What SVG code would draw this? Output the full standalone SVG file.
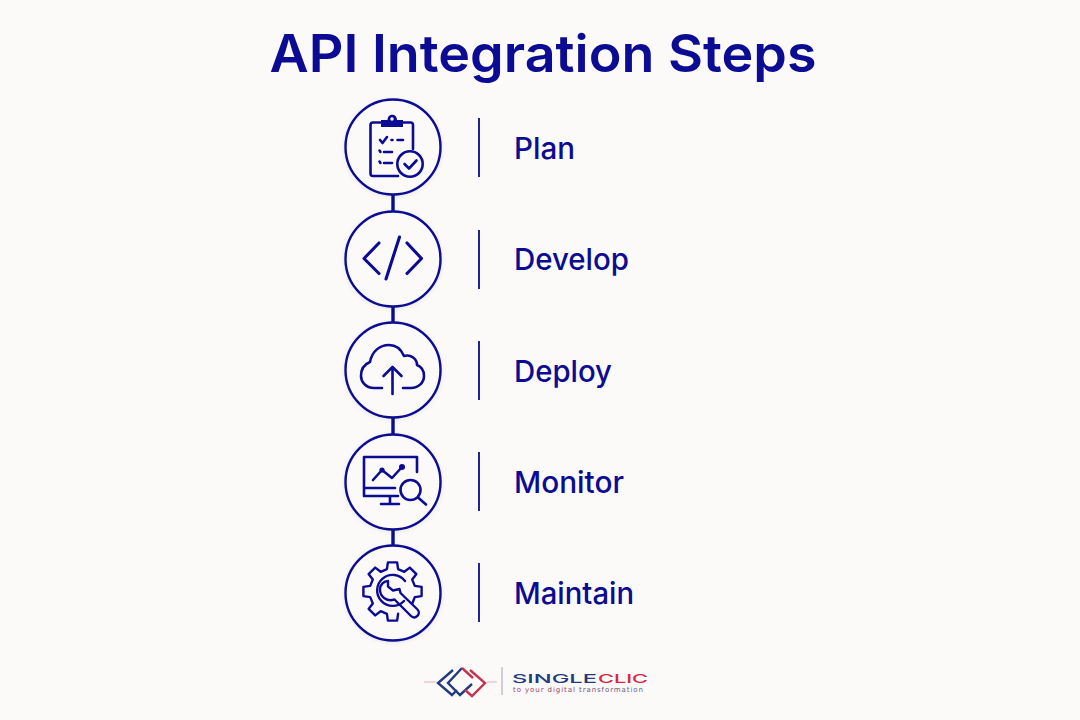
<svg xmlns="http://www.w3.org/2000/svg" width="1080" height="720" viewBox="0 0 1080 720">
<defs>
<style>
.ic{fill:none;stroke:#0b0b93;stroke-width:2.6;stroke-linecap:round;stroke-linejoin:round}
.ring{fill:#fbfaf9;stroke:#0b0b93;stroke-width:2.4}
.sep{stroke:#0b0b93;stroke-width:1.8}
.lb{font-family:Inter,"Noto Sans",sans-serif;font-size:30px;font-weight:500;fill:#0b0b93}
.fl{fill:#0b0b93;stroke:none}
</style>
<filter id="sh" x="-20%" y="-20%" width="140%" height="140%"><feDropShadow dx="0" dy="1" stdDeviation="2" flood-color="#000" flood-opacity="0.08"/></filter>
<linearGradient id="tag" x1="0" x2="1" y1="0" y2="0"><stop offset="0" stop-color="#b0405c"/><stop offset="0.5" stop-color="#7a4a70"/><stop offset="1" stop-color="#5a6488"/></linearGradient>
</defs>
<rect width="1080" height="720" fill="#fbfaf9"/>
<text x="543" y="71.500" text-anchor="middle" font-family="Inter,'Noto Sans',sans-serif" font-size="52" font-weight="600" fill="#0b0b93" textLength="547" lengthAdjust="spacingAndGlyphs">API Integration Steps</text>
<g id="connectors"><path d="M393 195V212M393 306V323M393 418V434M393 529V545" stroke="#0b0b93" stroke-width="3.4" fill="none"/></g>
<g id="plan">
<circle class="ring" cx="393" cy="147" r="47.500" filter="url(#sh)"/>
<path class="ic" d="M381 122.500H373Q370.500 122.500 370.500 125V173.500Q370.500 176 373 176H398M403 122.500H410.500Q413 122.500 413 125V149"/>
<path class="fl" d="M381 120H387.500C387.500 113 397 113 397 120H403V127H381Z"/>
<circle cx="392" cy="119" r="1.700" fill="#fbfaf9"/>
<path class="ic" d="M380 140L382.500 143L387 137M391.500 140H392.500M397.500 140H403M384 152H392M384 163H392"/>
<path class="ic" d="M379.500 150.500L380.500 152M379.500 161.500L380.500 163"/>
<circle class="ic" cx="410" cy="164" r="12.700" fill="#fbfaf9"/>
<path class="ic" d="M404.500 164L409 168.500L416.500 160.500"/>
<text class="lb" x="514" y="159" textLength="61" lengthAdjust="spacingAndGlyphs">Plan</text>
<path class="sep" d="M479 118V177"/>
</g>
<g id="develop">
<circle class="ring" cx="393" cy="259" r="47.500" filter="url(#sh)"/>
<path class="ic" style="stroke-width:3.1" d="M379 243L364 258.500L379 273.500M407 243L421.500 258.500L407 273.500M399.500 237L386 279"/>
<text class="lb" x="514" y="270" textLength="115" lengthAdjust="spacingAndGlyphs">Develop</text>
<path class="sep" d="M479 230V289"/>
</g>
<g id="deploy">
<circle class="ring" cx="393" cy="370" r="47.500" filter="url(#sh)"/>
<path class="ic" d="M382 388H374C365 388 361 381 361 376C361 369 365 364 370 362C372 351 380 345 389 345C396 345 401 349 404 356C411 354 417 359 417 365C422 367 424 372 424 376C424 383 418 388 411 388H403"/>
<path class="ic" d="M392.500 394V367M383.500 376L392.500 367L401.500 376"/>
<text class="lb" x="514" y="382" textLength="98" lengthAdjust="spacingAndGlyphs">Deploy</text>
<path class="sep" d="M479 341V400"/>
</g>
<g id="monitor">
<circle class="ring" cx="393" cy="482" r="47.500" filter="url(#sh)"/>
<path class="ic" d="M398 496H364V457H417V472M364 488H395M390 497V504M381 504H399"/>
<path class="ic" d="M373 480L382 470L392 478L402 467"/>
<circle class="fl" cx="382" cy="470" r="2.600"/><circle class="fl" cx="402" cy="467" r="3"/>
<circle class="ic" cx="410.500" cy="490" r="10"/>
<path class="ic" d="M418 497.500L426 504.500"/>
<text class="lb" x="514" y="493" textLength="110" lengthAdjust="spacingAndGlyphs">Monitor</text>
<path class="sep" d="M479 452V511"/>
</g>
<g id="maintain">
<circle class="ring" cx="393" cy="593" r="47.500" filter="url(#sh)"/>
<path class="ic" style="stroke-width:2.400" d="M398.100 613.800L397.100 620.600H387.900L386.900 613.800L380.700 611.200L375.200 615.400L368.600 608.900L372.800 603.400L370.200 597.100L363.400 596.100V586.900L370.200 585.900L372.800 579.600L368.600 574.100L375.200 567.600L380.700 571.800L386.900 569.200L387.900 562.400H397.100L398.100 569.200L404.300 571.800L409.800 567.600L416.400 574.100L412.200 579.600L414.800 585.900L421.600 586.900V596.100L414.800 597.100L412.500 603"/>
<path class="ic" style="stroke-width:2.400" d="M404 601A15.500 15.500 0 1 1 405 581"/>
<path class="ic" style="stroke-width:2.400" d="M388 581V586.500L393 590.500L399.500 589L400.500 593L417.500 609.500C421.500 613.500 415.500 620.500 411 616L394.500 599.500C387 602 380 597 380 589.500C380 584.500 384 581 388 581Z"/>
<text class="lb" x="514" y="604" textLength="120" lengthAdjust="spacingAndGlyphs">Maintain</text>
<path class="sep" d="M479 563V622"/>
</g>
<g id="logo" fill="none" stroke-width="2.400">
<path stroke="#233a7c" d="M453 670L438 683L452 695L457 690M462 668L448 683L460 695L472 684"/>
<path stroke="#c43552" d="M462 668L473 678M470 670L485 683L472 696L465 690"/>
<path stroke="#e0b0b6" stroke-width="1" d="M424 682H436M487 682H497"/>
<path stroke="#a8a0b0" stroke-width="1" d="M502 667V695"/>
<text x="512" y="683" font-family="Inter,sans-serif" font-size="12" font-weight="500" textLength="85" lengthAdjust="spacingAndGlyphs" fill="#233a7c" stroke="none">SINGLE</text>
<text x="598" y="683" font-family="Inter,sans-serif" font-size="12" font-weight="500" textLength="50" lengthAdjust="spacingAndGlyphs" fill="#d6293f" stroke="none">CLIC</text>
<text x="513" y="692" font-family="'DejaVu Sans',sans-serif" font-size="7" textLength="130" fill="url(#tag)" stroke="none">to your digital transformation</text>
</g>
</svg>
